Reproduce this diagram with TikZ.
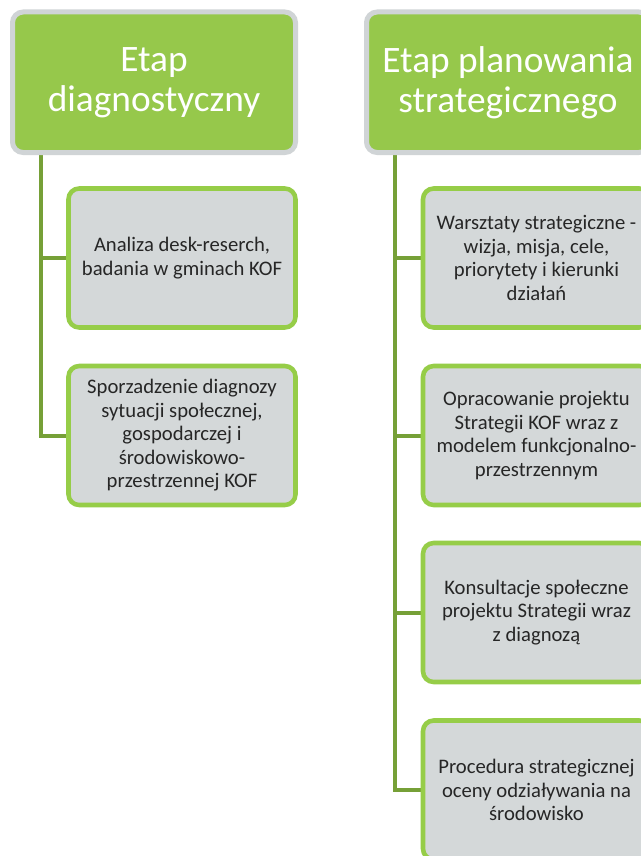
\documentclass[tikz,border=0pt]{standalone}
\usepackage{fontspec}
\setmainfont{Carlito}
\usetikzlibrary{positioning,backgrounds}

\definecolor{stagefill}{RGB}{150,200,75}
\definecolor{stageedge}{RGB}{208,212,214}
\definecolor{taskfill}{RGB}{212,216,217}
\definecolor{taskedge}{RGB}{150,205,72}
\definecolor{linkgreen}{RGB}{118,160,55}
\definecolor{tasktext}{RGB}{38,38,38}

\tikzset{
  stage/.style={draw=stageedge, fill=stagefill, line width=3.75pt,
    rounded corners=8pt, minimum width=212.25pt, minimum height=105.4pt,
    align=center, text=white, font=\fontsize{28}{30}\selectfont},
  task/.style={draw=taskedge, fill=taskfill, line width=3.4pt,
    rounded corners=8pt, minimum width=170.25pt, minimum height=104.25pt,
    align=center, text=tasktext, font=\fontsize{15.5}{17.6}\selectfont},
  link/.style={draw=linkgreen, line width=3pt}
}

\begin{document}
\begin{tikzpicture}[x=0.75pt,y=-0.75pt]
\path[use as bounding box, clip] (0,0) rectangle (641,856);

% Stage headers
\node[stage] (diag) at (154,82.25) {Etap\\diagnostyczny};
\node[stage] (plan) at (508,82.25) {Etap planowania\\strategicznego};

% Diagnostic stage tasks
\node[task] (d1) at (182,258) {Analiza desk-reserch,\\badania w gminach KOF};
\node[task] (d2) at (182,435.5) {Sporzadzenie diagnozy\\sytuacji społecznej,\\gospodarczej i\\środowiskowo-\\przestrzennej KOF};

% Strategic planning tasks
\node[task] (p1) at (536.5,258) {Warsztaty strategiczne -\\wizja, misja, cele,\\priorytety i kierunki\\działań};
\node[task] (p2) at (536.5,435.5) {Opracowanie projektu\\Strategii KOF wraz z\\modelem funkcjonalno-\\przestrzennym};
\node[task] (p3) at (536.5,612.5) {Konsultacje społeczne\\projektu Strategii wraz\\z diagnozą};
\node[task] (p4) at (536.5,790) {Procedura strategicznej\\oceny odziaływania na\\środowisko};

% Trunks and branches
\begin{scope}[on background layer]
\fill[white] (0,0) rectangle (641,856);
\coordinate (dtop) at (40.5,150);
\coordinate (ptop) at (395,150);
\foreach \t in {d1,d2}
  \draw[link] (dtop) |- (\t.west);
\foreach \t in {p1,p2,p3,p4}
  \draw[link] (ptop) |- (\t.west);
\end{scope}
\end{tikzpicture}
\end{document}
